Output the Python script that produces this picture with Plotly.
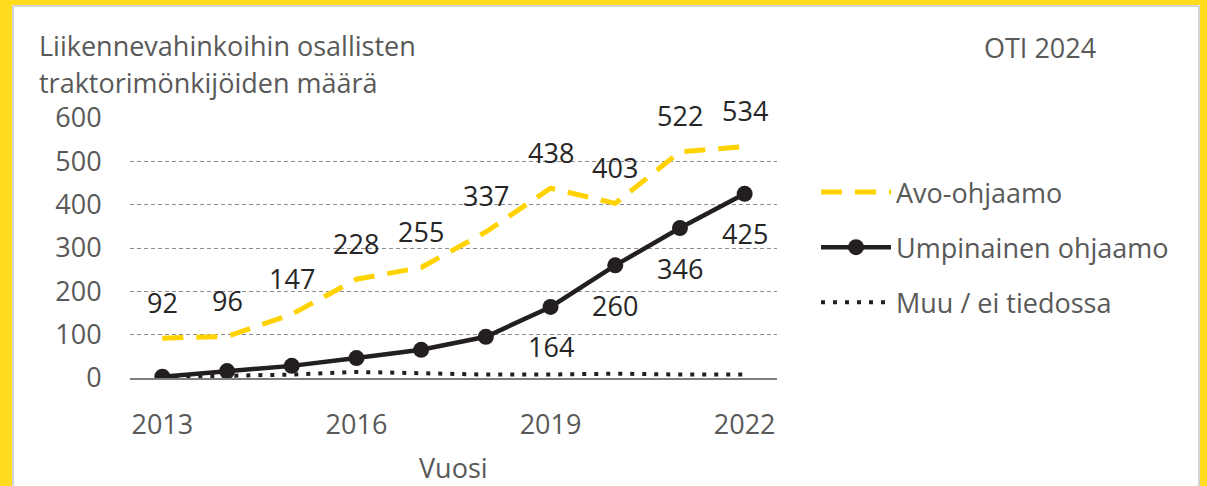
import plotly.graph_objects as go

years = [2013, 2014, 2015, 2016, 2017, 2018, 2019, 2020, 2021, 2022]
avo = [92, 96, 147, 228, 255, 337, 438, 403, 522, 534]
umpi = [3, 16, 28, 46, 65, 95, 164, 260, 346, 425]
muu = [2, 5, 8, 14, 10, 8, 8, 10, 8, 8]
umpi_label_years = [2019, 2020, 2021, 2022]

x_ticks = [2013, 2016, 2019, 2022]
y_ticks = [0, 100, 200, 300, 400, 500, 600]

YELLOW_LINE = "#FFD200"
YELLOW_BG = "#FFDC1E"
GRAY_TXT = "#595959"
BLACK = "#231F20"
FONT = "Open Sans"
FS = 27

W, H = 1207, 486
L, R, T, B = 130, 777, 118, 378
pw, ph = R - L, B - T


def px(x):
    return (x - L) / pw


def py(y):
    return (B - y) / ph


fig = go.Figure()
fig.add_trace(go.Scatter(x=years, y=avo, mode="lines", name="Avo-ohjaamo",
                         line=dict(color=YELLOW_LINE, width=5, dash="21px,13px"),
                         legendgroup="a"))
fig.add_trace(go.Scatter(x=years, y=umpi, mode="lines+markers", name="Umpinainen ohjaamo",
                         line=dict(color=BLACK, width=4.5),
                         marker=dict(color=BLACK, size=16),
                         legendgroup="b"))
fig.add_trace(go.Scatter(x=years, y=muu, mode="lines", name="Muu / ei tiedossa",
                         line=dict(color=BLACK, width=4, dash="4px,8px"),
                         legendgroup="c"))

annotations = []
for x, v in zip(years, avo):
    annotations.append(dict(x=x, y=v, xref="x", yref="y", text=str(v), showarrow=False,
                            yshift=36, font=dict(family=FONT, size=FS, color="#262626")))
for x, v in zip(years, umpi):
    if x in umpi_label_years:
        annotations.append(dict(x=x, y=v, xref="x", yref="y", text=str(v), showarrow=False,
                                yshift=-40, font=dict(family=FONT, size=FS, color="#262626")))

annotations += [
    dict(x=px(37), y=py(45), xref="paper", yref="paper", xanchor="left", yanchor="middle",
         text="Liikennevahinkoihin osallisten", showarrow=False,
         font=dict(family=FONT, size=FS, color=GRAY_TXT)),
    dict(x=px(37), y=py(82), xref="paper", yref="paper", xanchor="left", yanchor="middle",
         text="traktorimönkijöiden määrä", showarrow=False,
         font=dict(family=FONT, size=FS, color=GRAY_TXT)),
    dict(x=px(1040), y=py(47), xref="paper", yref="paper", xanchor="center", yanchor="middle",
         text="OTI 2024", showarrow=False,
         font=dict(family=FONT, size=FS, color=GRAY_TXT)),
    dict(x=px(453), y=py(467), xref="paper", yref="paper", xanchor="center", yanchor="middle",
         text="Vuosi", showarrow=False,
         font=dict(family=FONT, size=FS, color=GRAY_TXT)),
]

shapes = [
    # yellow frame: left, top, right
    dict(type="rect", xref="paper", yref="paper", layer="below",
         x0=px(-5), x1=px(12), y0=py(500), y1=py(-5),
         fillcolor=YELLOW_BG, line=dict(width=0)),
    dict(type="rect", xref="paper", yref="paper", layer="below",
         x0=px(-5), x1=px(1215), y0=py(5), y1=py(-5),
         fillcolor=YELLOW_BG, line=dict(width=0)),
    dict(type="rect", xref="paper", yref="paper", layer="below",
         x0=px(1200), x1=px(1215), y0=py(500), y1=py(-5),
         fillcolor=YELLOW_BG, line=dict(width=0)),
    # light gray inner edge
    dict(type="line", xref="paper", yref="paper", layer="below",
         x0=px(13), x1=px(13), y0=py(500), y1=py(6),
         line=dict(color="#D4D4D4", width=2)),
    dict(type="line", xref="paper", yref="paper", layer="below",
         x0=px(13), x1=px(1199), y0=py(6), y1=py(6),
         line=dict(color="#D4D4D4", width=2)),
    dict(type="line", xref="paper", yref="paper", layer="below",
         x0=px(1199), x1=px(1199), y0=py(500), y1=py(6),
         line=dict(color="#D4D4D4", width=2)),
]

fig.update_layout(
    width=W, height=H,
    margin=dict(l=L, r=W - R, t=T, b=H - B, pad=0),
    paper_bgcolor="white",
    plot_bgcolor="rgba(0,0,0,0)",
    showlegend=True,
    legend=dict(x=px(816), y=py(168), xanchor="left", yanchor="top",
                font=dict(family=FONT, size=FS, color=GRAY_TXT),
                bgcolor="rgba(0,0,0,0)", itemwidth=70, tracegroupgap=17,
                traceorder="grouped"),
    annotations=annotations,
    shapes=shapes,
    xaxis=dict(range=[2012.5, 2022.5], tickvals=x_ticks, showgrid=False, zeroline=False,
               showline=True, linecolor="#7F7F7F", linewidth=2,
               ticks="outside", ticklen=22, tickcolor="rgba(0,0,0,0)",
               tickfont=dict(family=FONT, size=FS, color=GRAY_TXT)),
    yaxis=dict(range=[0, 600], tickvals=y_ticks, showgrid=True, gridcolor="#8C8C8C",
               griddash="4px,3px", gridwidth=1, zeroline=False, showline=False,
               ticks="outside", ticklen=22, tickcolor="rgba(0,0,0,0)",
               tickfont=dict(family=FONT, size=FS, color=GRAY_TXT)),
)

fig.write_html("out.html", config={"displayModeBar": False},
               post_script="document.body.style.margin='0';")
